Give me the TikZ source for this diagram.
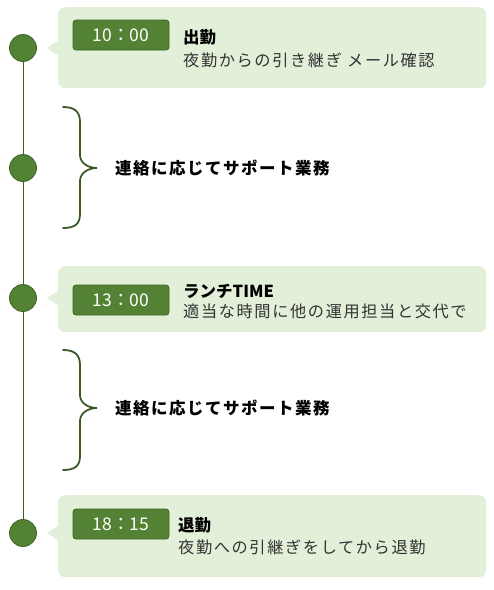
\documentclass[tikz,border=0pt]{standalone}
\usepackage{fontspec}
\setmainfont{Noto Sans CJK JP}
\definecolor{boxfill}{HTML}{E2EFD9}
\definecolor{badgefill}{HTML}{548235}
\definecolor{badgeline}{HTML}{3F6326}
\definecolor{linecol}{HTML}{3B5A26}
\definecolor{subtext}{HTML}{333333}
\begin{document}
\begin{tikzpicture}[x=1pt,y=-1pt,
  dot/.style={circle, fill=badgefill, draw=badgeline, line width=0.8pt, minimum size=27pt, inner sep=0pt},
  callout/.style={fill=boxfill, rounded corners=7pt, inner sep=0pt, anchor=north west},
  badge/.style={fill=badgefill, draw=badgeline, line width=0.8pt, rounded corners=3pt, minimum width=96pt, minimum height=30pt, inner sep=0pt, text=white, font=\fontsize{17.5pt}{18pt}\selectfont},
  title/.style={anchor=west, inner sep=0pt, font=\fontsize{16.5pt}{17pt}\selectfont\bfseries},
  sub/.style={anchor=west, inner sep=0pt, text=subtext, font=\fontsize{16.2pt}{17pt}\selectfont\addfontfeatures{LetterSpace=10}},
  bracelbl/.style={anchor=west, inner sep=0pt, font=\fontsize{16.5pt}{17pt}\selectfont\bfseries\addfontfeatures{LetterSpace=9}},
  bracepath/.style={draw=linecol, line width=1.8pt, line cap=round}
]
\useasboundingbox (0,0) rectangle (494,590);

% callout boxes
\node[callout, minimum width=428pt, minimum height=81pt] (b1) at (58,7) {};
\fill[boxfill] (47,48) -- (59,40) -- (59,56) -- cycle;
\node[callout, minimum width=428pt, minimum height=66pt] (b2) at (58,266) {};
\fill[boxfill] (47,298) -- (59,290) -- (59,306) -- cycle;
\node[callout, minimum width=428pt, minimum height=82pt] (b3) at (58,495) {};
\fill[boxfill] (47,533) -- (59,525) -- (59,541) -- cycle;

% timeline
\coordinate (top) at (23,48);
\coordinate (bot) at (23,533);
\draw[linecol, line width=1pt] (top) -- (bot);
\node[dot] (c1) at (23,48) {};
\node[dot] (c2) at (23,168) {};
\node[dot] (c3) at (23,298) {};
\node[dot] (c4) at (23,533) {};

% badges
\node[badge] (t1) at (121,35) {10：00};
\node[badge] (t2) at (121,300) {13：00};
\node[badge] (t3) at (121,524) {18：15};

% texts
\node[title] (h1) at (183,37) {出勤};
\node[sub] (s1) at (183,60) {夜勤からの引き継ぎ メール確認};
\node[title] (h2) at (183,291) {ランチTIME};
\node[sub] (s2) at (183,311) {適当な時間に他の運用担当と交代で};
\node[title] (h3) at (178,525) {退勤};
\node[sub] (s3) at (178,547) {夜勤への引継ぎをしてから退勤};

% braces
\draw[bracepath] (63,107) .. controls (75,107) and (80,112) .. (80,122) -- (80,155) .. controls (80,163) and (88,168) .. (97,168) .. controls (88,168) and (80,173) .. (80,181) -- (80,214) .. controls (80,224) and (75,228) .. (63,228);
\node[bracelbl] (l1) at (115,168) {連絡に応じてサポート業務};
\draw[bracepath] (63,350) .. controls (75,350) and (80,355) .. (80,365) -- (80,395) .. controls (80,403) and (88,408) .. (97,408) .. controls (88,408) and (80,413) .. (80,421) -- (80,456) .. controls (80,466) and (75,470) .. (63,470);
\node[bracelbl] (l2) at (115,408) {連絡に応じてサポート業務};
\end{tikzpicture}
\end{document}
